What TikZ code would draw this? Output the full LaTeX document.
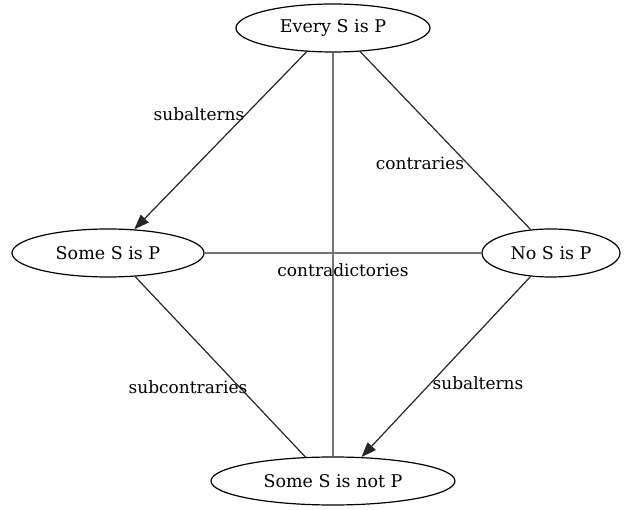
\documentclass[tikz,border=0pt]{standalone}
\usepackage{fontspec}
\setmainfont{DejaVu Serif}
\usetikzlibrary{shapes.geometric,arrows.meta}

\begin{document}
\begin{tikzpicture}[x=1pt,y=-1pt,
    prop/.style={draw,ellipse,line width=1.2pt,inner sep=0pt,minimum height=48pt,font=\fontsize{17.5}{20}\selectfont},
    rel/.style={line width=1.2pt,draw=black!85},
    opp/.style={line width=1.9pt,draw=black!55},
    lbl/.style={inner sep=0pt,font=\fontsize{17}{20}\selectfont},
    tip/.style={-{Triangle[length=15pt,width=11pt]},fill=black}]
    \useasboundingbox (0,0) rectangle (627,510);
    % the four corners
    \node[prop,minimum width=194pt] (every) at (333,28) {Every S is P};
    \node[prop,minimum width=192pt] (someP) at (108,253) {Some S is P};
    \node[prop,minimum width=138pt] (noP) at (551,253) {No S is P};
    \node[prop,minimum width=244pt] (someNotP) at (333,481) {Some S is not P};
    % relations
    \draw[rel,tip] (every.222) -- (someP.42);
    \draw[rel] (every.319) -- (noP.131);
    \draw[opp] (every.south) -- (someNotP.north);
    \draw[opp] (someP.east) -- (noP.west);
    \draw[rel] (someP.319) -- (someNotP.139);
    \draw[rel,tip] (noP.229) -- (someNotP.40);
    \node[lbl] (subA) at (199,114) {subalterns};
    \node[lbl] (contr) at (420,163) {contraries};
    \node[lbl] (contrad) at (343,270) {contradictories};
    \node[lbl] (subC) at (188,387) {subcontraries};
    \node[lbl] (subB) at (478,383) {subalterns};
\end{tikzpicture}
\end{document}
